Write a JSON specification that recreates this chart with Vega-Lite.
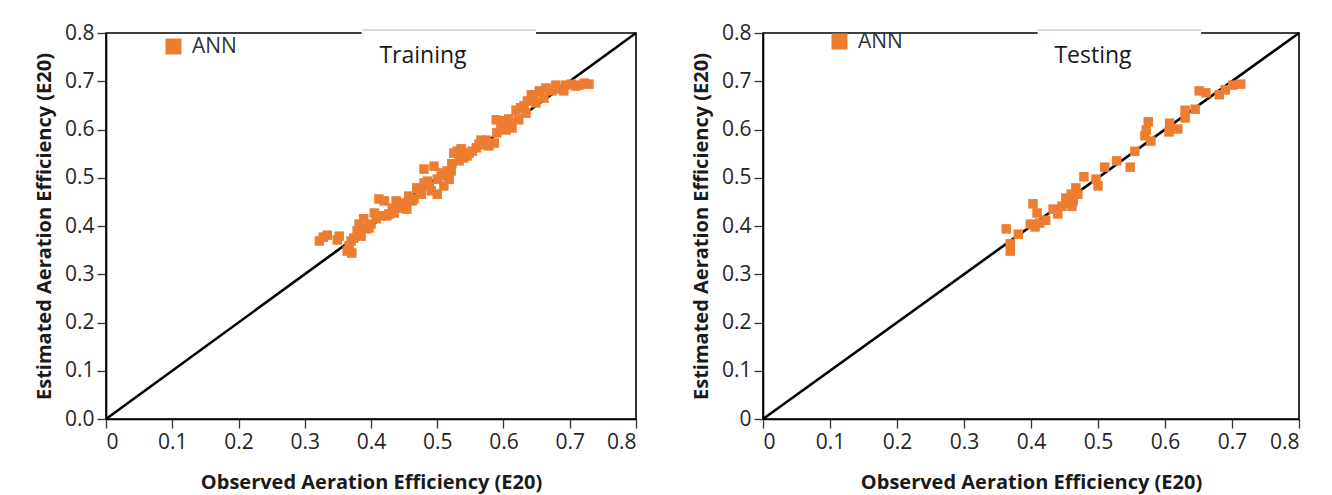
{
  "$schema": "https://vega.github.io/schema/vega-lite/v6.json",
  "background": "white",
  "padding": {"left": 33, "top": 21, "right": 5, "bottom": 2},
  "spacing": 48,
  "config": {
    "font": "Open Sans",
    "view": {"stroke": "#000000", "strokeWidth": 1.6},
    "axis": {
      "grid": false,
      "domainColor": "#000000",
      "domainWidth": 1.6,
      "tickColor": "#333333",
      "tickSize": 9,
      "tickWidth": 1.3,
      "labelFont": "Open Sans",
      "labelFontSize": 21,
      "labelColor": "#262626",
      "labelPadding": 3,
      "titleFont": "Open Sans",
      "titleFontSize": 20,
      "titleFontWeight": "bold",
      "titleColor": "#1a1a1a"
    },
    "legend": {
      "labelFont": "Open Sans",
      "labelFontSize": 21,
      "labelColor": "#333333",
      "symbolType": "square",
      "symbolSize": 256,
      "symbolStrokeWidth": 0,
      "labelOffset": 8,
      "padding": 0
    },
    "title": {"font": "Open Sans", "fontSize": 23, "fontWeight": "normal", "color": "#1a1a1a"}
  },
  "resolve": {"scale": {"color": "independent"}, "legend": {"color": "independent"}},
  "datasets": {
    "diag": [{"x": 0, "y": 0}, {"x": 0.8, "y": 0.8}],
    "train": [
      {"x":0.322,"y":0.369},{"x":0.328,"y":0.377},{"x":0.334,"y":0.381},{"x":0.352,"y":0.379},{"x":0.349,"y":0.371},
      {"x":0.364,"y":0.348},{"x":0.367,"y":0.359},{"x":0.370,"y":0.369},{"x":0.374,"y":0.375},{"x":0.379,"y":0.390},
      {"x":0.382,"y":0.404},{"x":0.389,"y":0.415},{"x":0.393,"y":0.394},{"x":0.400,"y":0.404},{"x":0.408,"y":0.415},
      {"x":0.412,"y":0.456},{"x":0.420,"y":0.452},{"x":0.415,"y":0.421},{"x":0.424,"y":0.421},{"x":0.432,"y":0.437},
      {"x":0.438,"y":0.452},{"x":0.445,"y":0.437},{"x":0.450,"y":0.448},{"x":0.457,"y":0.462},{"x":0.462,"y":0.452},
      {"x":0.469,"y":0.479},{"x":0.476,"y":0.466},{"x":0.480,"y":0.489},{"x":0.480,"y":0.518},{"x":0.495,"y":0.524},
      {"x":0.491,"y":0.473},{"x":0.500,"y":0.497},{"x":0.510,"y":0.483},{"x":0.506,"y":0.510},{"x":0.515,"y":0.514},
      {"x":0.522,"y":0.529},{"x":0.525,"y":0.551},{"x":0.536,"y":0.560},{"x":0.533,"y":0.535},{"x":0.397,"y":0.396},
      {"x":0.427,"y":0.425},{"x":0.485,"y":0.493},{"x":0.500,"y":0.466},{"x":0.513,"y":0.504},{"x":0.521,"y":0.514},
      {"x":0.530,"y":0.555},{"x":0.537,"y":0.555},{"x":0.540,"y":0.541},{"x":0.545,"y":0.545},{"x":0.559,"y":0.562},
      {"x":0.566,"y":0.578},{"x":0.571,"y":0.568},{"x":0.578,"y":0.566},{"x":0.586,"y":0.572},{"x":0.590,"y":0.593},
      {"x":0.589,"y":0.620},{"x":0.601,"y":0.618},{"x":0.611,"y":0.614},{"x":0.604,"y":0.599},{"x":0.613,"y":0.603},
      {"x":0.623,"y":0.620},{"x":0.619,"y":0.640},{"x":0.626,"y":0.645},{"x":0.634,"y":0.634},{"x":0.636,"y":0.659},
      {"x":0.642,"y":0.672},{"x":0.649,"y":0.655},{"x":0.654,"y":0.680},{"x":0.661,"y":0.665},{"x":0.664,"y":0.686},
      {"x":0.673,"y":0.680},{"x":0.679,"y":0.692},{"x":0.694,"y":0.692},{"x":0.691,"y":0.680},{"x":0.709,"y":0.690},
      {"x":0.722,"y":0.696},{"x":0.553,"y":0.555},{"x":0.563,"y":0.570},{"x":0.385,"y":0.379},{"x":0.371,"y":0.344},
      {"x":0.405,"y":0.427},{"x":0.435,"y":0.427},{"x":0.454,"y":0.435},{"x":0.465,"y":0.456},{"x":0.473,"y":0.473},
      {"x":0.488,"y":0.483},{"x":0.518,"y":0.497},{"x":0.548,"y":0.551},{"x":0.574,"y":0.578},{"x":0.596,"y":0.601},
      {"x":0.608,"y":0.622},{"x":0.631,"y":0.649},{"x":0.646,"y":0.665},{"x":0.669,"y":0.684},{"x":0.684,"y":0.684},
      {"x":0.702,"y":0.694},{"x":0.714,"y":0.692},{"x":0.729,"y":0.694}
    ],
    "test": [
      {"x":0.363,"y":0.394},{"x":0.369,"y":0.363},{"x":0.369,"y":0.348},{"x":0.381,"y":0.383},{"x":0.403,"y":0.446},
      {"x":0.409,"y":0.427},{"x":0.399,"y":0.404},{"x":0.406,"y":0.398},{"x":0.413,"y":0.406},{"x":0.422,"y":0.412},
      {"x":0.433,"y":0.435},{"x":0.440,"y":0.425},{"x":0.452,"y":0.458},{"x":0.463,"y":0.452},{"x":0.461,"y":0.441},
      {"x":0.467,"y":0.479},{"x":0.470,"y":0.466},{"x":0.460,"y":0.466},{"x":0.455,"y":0.448},{"x":0.446,"y":0.441},
      {"x":0.479,"y":0.502},{"x":0.497,"y":0.497},{"x":0.500,"y":0.483},{"x":0.510,"y":0.522},{"x":0.528,"y":0.535},
      {"x":0.548,"y":0.522},{"x":0.555,"y":0.555},{"x":0.575,"y":0.616},{"x":0.572,"y":0.599},{"x":0.570,"y":0.587},
      {"x":0.579,"y":0.576},{"x":0.607,"y":0.613},{"x":0.606,"y":0.595},{"x":0.619,"y":0.601},{"x":0.630,"y":0.624},
      {"x":0.630,"y":0.640},{"x":0.645,"y":0.642},{"x":0.651,"y":0.680},{"x":0.661,"y":0.676},{"x":0.681,"y":0.672},
      {"x":0.690,"y":0.682},{"x":0.701,"y":0.692},{"x":0.713,"y":0.694}
    ]
  },
  "hconcat": [
    {
      "width": 530,
      "height": 386,
      "title": {"text": "Training", "anchor": "middle", "frame": "group", "dx": 52, "dy": 36, "offset": -28, "baseline": "alphabetic"},
      "encoding": {
        "x": {
          "type": "quantitative",
          "scale": {"domain": [0, 0.8], "nice": false, "zero": false},
          "axis": {
            "title": "Observed Aeration Efficiency (E20)",
            "values": [0, 0.1, 0.2, 0.3, 0.4, 0.5, 0.6, 0.7, 0.8],
            "labelExpr": "datum.value == 0 ? '0' : format(datum.value, '.1f')",
            "titlePadding": 20
          }
        },
        "y": {
          "type": "quantitative",
          "scale": {"domain": [0, 0.8], "nice": false, "zero": false},
          "axis": {
            "title": "Estimated Aeration Efficiency (E20)",
            "values": [0, 0.1, 0.2, 0.3, 0.4, 0.5, 0.6, 0.7, 0.8],
            "format": ".1f",
            "titlePadding": 10
          }
        }
      },
      "layer": [
        {
          "data": {"values": [{}]},
          "mark": {"type": "rect", "fill": "white", "stroke": null},
          "encoding": {
            "x": {"datum": 0.386},
            "x2": {"datum": 0.649},
            "y": {"datum": 0.745},
            "y2": {"datum": 0.806}
          }
        },
        {
          "data": {"values": [{}]},
          "mark": {"type": "rule", "color": "#c8c8c8", "strokeWidth": 1.2},
          "encoding": {
            "x": {"datum": 0.386},
            "x2": {"datum": 0.649},
            "y": {"datum": 0.806}
          }
        },
        {
          "data": {"name": "diag"},
          "mark": {"type": "line", "color": "#000000", "strokeWidth": 2.6},
          "encoding": {"x": {"field": "x"}, "y": {"field": "y"}}
        },
        {
          "data": {"name": "train"},
          "mark": {"type": "square", "size": 90, "opacity": 1},
          "encoding": {
            "x": {"field": "x"},
            "y": {"field": "y"},
            "color": {
              "datum": "ANN",
              "scale": {"range": ["#ED7D31"]},
              "legend": {"title": null, "orient": "none", "legendX": 57, "legendY": 3}
            }
          }
        }
      ]
    },
    {
      "width": 536,
      "height": 386,
      "title": {"text": "Testing", "anchor": "middle", "frame": "group", "dx": 62, "dy": 36, "offset": -28, "baseline": "alphabetic"},
      "encoding": {
        "x": {
          "type": "quantitative",
          "scale": {"domain": [0, 0.8], "nice": false, "zero": false},
          "axis": {
            "title": "Observed Aeration Efficiency (E20)",
            "values": [0, 0.1, 0.2, 0.3, 0.4, 0.5, 0.6, 0.7, 0.8],
            "labelExpr": "datum.value == 0 ? '0' : format(datum.value, '.1f')",
            "titlePadding": 20
          }
        },
        "y": {
          "type": "quantitative",
          "scale": {"domain": [0, 0.8], "nice": false, "zero": false},
          "axis": {
            "title": "Estimated Aeration Efficiency (E20)",
            "values": [0, 0.1, 0.2, 0.3, 0.4, 0.5, 0.6, 0.7, 0.8],
            "labelExpr": "datum.value == 0 ? '0' : format(datum.value, '.1f')",
            "titlePadding": 10
          }
        }
      },
      "layer": [
        {
          "data": {"values": [{}]},
          "mark": {"type": "rect", "fill": "white", "stroke": null},
          "encoding": {
            "x": {"datum": 0.41},
            "x2": {"datum": 0.654},
            "y": {"datum": 0.745},
            "y2": {"datum": 0.806}
          }
        },
        {
          "data": {"values": [{}]},
          "mark": {"type": "rule", "color": "#c8c8c8", "strokeWidth": 1.2},
          "encoding": {
            "x": {"datum": 0.41},
            "x2": {"datum": 0.654},
            "y": {"datum": 0.806}
          }
        },
        {
          "data": {"name": "diag"},
          "mark": {"type": "line", "color": "#000000", "strokeWidth": 2.6},
          "encoding": {"x": {"field": "x"}, "y": {"field": "y"}}
        },
        {
          "data": {"name": "test"},
          "mark": {"type": "square", "size": 90, "opacity": 1},
          "encoding": {
            "x": {"field": "x"},
            "y": {"field": "y"},
            "color": {
              "datum": "ANN",
              "scale": {"range": ["#ED7D31"]},
              "legend": {"title": null, "orient": "none", "legendX": 66, "legendY": -2}
            }
          }
        }
      ]
    }
  ]
}
